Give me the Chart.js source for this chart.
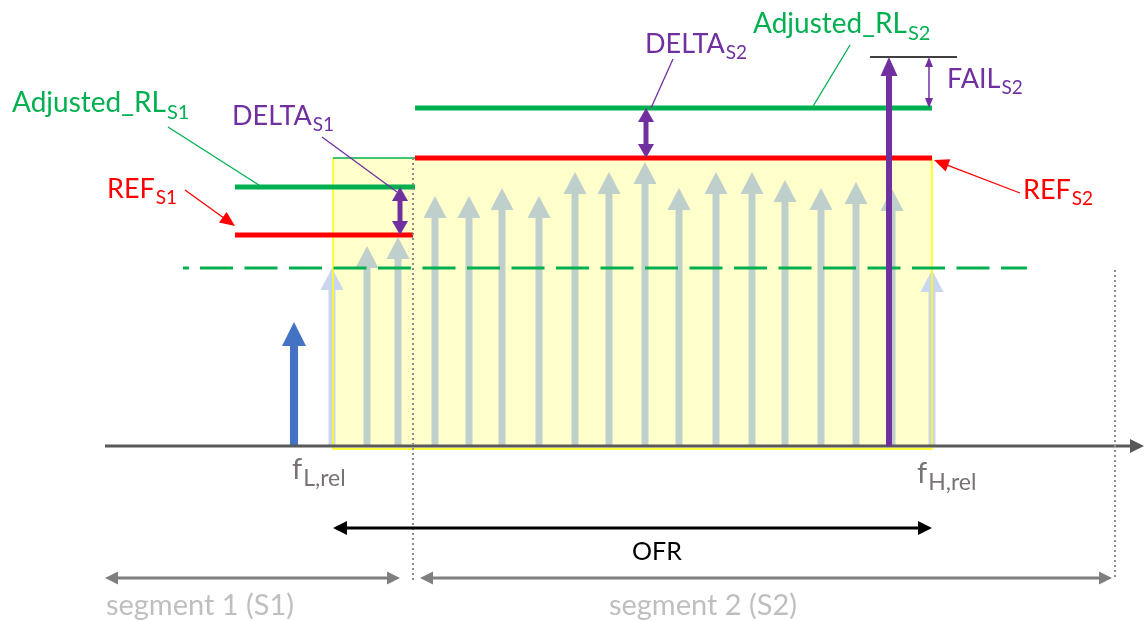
<!DOCTYPE html>
<html>
<head>
<meta charset="utf-8">
<script src="https://cdn.jsdelivr.net/npm/chart.js@4.4.0/dist/chart.umd.min.js"></script>
<style>
  html, body { margin: 0; padding: 0; background: #fff; }
  #wrap { width: 1144px; height: 621px; }
</style>
</head>
<body>
<div id="wrap"><canvas id="diagram"></canvas></div>
<script>
// Schematic: x = frequency (arbitrary units), y = level above the axis

// emission lines inside the OFR
const emissionFreqs = [332, 367, 398, 435, 469, 502, 539, 575, 609, 645, 679, 716, 752, 785, 821, 856, 892, 932];
const emissionLevels = [178, 200, 209, 250, 250, 258, 250, 274, 274, 284, 258, 274, 274, 266, 258, 264, 257, 176];

// out of range emission and failing emission
const outsideFreq = 294, outsideLevel = 124;
const failFreq = 889, failLevel = 389;

// segments
const segmentNames = ['segment 1 (S1)', 'segment 2 (S2)'];
const segmentBounds = [105, 413, 1115];
const ofrRange = [333, 932];

// reference / adjusted limits per segment
const refStart = [235, 415];
const refEnd = [413, 932];
const refLevels = [211, 288];
const adjStart = [235, 415];
const adjEnd = [415, 932];
const adjLevels = [259, 338];
const thresholdLevel = 178;
const thresholdRange = [200, 1027];

const GREEN = '#00b050', RED = '#ff0000', PURPLE = '#7030a0';
const FONT = 'Lato, "Open Sans", sans-serif';

function seg(x1, x2, y) { return [{ x: x1, y: y }, { x: x2, y: y }]; }

const lineDefaults = { pointRadius: 0, borderCapStyle: 'butt', fill: false, tension: 0 };

const datasets = [
  { ...lineDefaults, data: seg(refStart[0], refEnd[0], refLevels[0]), borderColor: RED, borderWidth: 5 },
  { ...lineDefaults, data: seg(refStart[1], refEnd[1], refLevels[1]), borderColor: RED, borderWidth: 5 },
  { ...lineDefaults, data: seg(adjStart[0], adjEnd[0], adjLevels[0]), borderColor: GREEN, borderWidth: 5 },
  { ...lineDefaults, data: seg(adjStart[1], adjEnd[1], adjLevels[1]), borderColor: GREEN, borderWidth: 5 },
  { ...lineDefaults, data: seg(ofrRange[0], refStart[1], refLevels[1]), borderColor: GREEN, borderWidth: 1.5 },
  { ...lineDefaults, data: seg(870, 957, failLevel), borderColor: '#404040', borderWidth: 2 },
  { ...lineDefaults, data: seg(thresholdRange[0], thresholdRange[1], thresholdLevel), borderColor: GREEN, borderWidth: 3, borderDash: [33, 11.5] },
  { ...lineDefaults, data: seg(183, 189, thresholdLevel), borderColor: GREEN, borderWidth: 3 },
  { ...lineDefaults, data: seg(segmentBounds[0], 1134, 0), borderColor: '#595959', borderWidth: 3 }
];

// labels: [main, subscript, x, level, colour, size]
const labels = [
  ['Adjusted_RL', 'S1', 12, 334, GREEN, 28],
  ['DELTA', 'S1', 232, 321, PURPLE, 27],
  ['REF', 'S1', 107, 248, RED, 27],
  ['DELTA', 'S2', 645, 393, PURPLE, 27],
  ['Adjusted_RL', 'S2', 753, 413, GREEN, 28],
  ['FAIL', 'S2', 947, 358, PURPLE, 27],
  ['REF', 'S2', 1023, 247, RED, 27]
];

// leader lines: [x1, y1, x2, y2, colour, arrowhead]
const leaders = [
  [168, 319, 262, 259, GREEN, false],
  [322, 309, 397, 254, PURPLE, false],
  [185, 256, 235, 220, RED, true],
  [673, 387, 651, 338, PURPLE, false],
  [850, 401, 812, 338, GREEN, false],
  [1020, 253, 934, 286, RED, true]
];

function head(ctx, x, y, ang, len, w, color) {
  ctx.save();
  ctx.translate(x, y);
  ctx.rotate(ang);
  ctx.beginPath();
  ctx.moveTo(0, 0);
  ctx.lineTo(-len, -w / 2);
  ctx.lineTo(-len, w / 2);
  ctx.closePath();
  ctx.fillStyle = color;
  ctx.fill();
  ctx.restore();
}

// arrow from (x1,y1) to (x2,y2) in pixels
function arrow(ctx, x1, y1, x2, y2, o) {
  const ang = Math.atan2(y2 - y1, x2 - x1);
  const dx = Math.cos(ang), dy = Math.sin(ang);
  const sx = o.both ? x1 + dx * o.len * 0.8 : x1, sy = o.both ? y1 + dy * o.len * 0.8 : y1;
  const ex = x2 - dx * o.len * 0.8, ey = y2 - dy * o.len * 0.8;
  ctx.save();
  ctx.strokeStyle = o.color;
  ctx.lineWidth = o.width;
  ctx.lineCap = 'butt';
  ctx.beginPath();
  ctx.moveTo(sx, sy);
  ctx.lineTo(o.noHead ? x2 : ex, o.noHead ? y2 : ey);
  ctx.stroke();
  ctx.restore();
  if (!o.noHead) head(ctx, x2, y2, ang, o.len, o.w, o.color);
  if (o.both) head(ctx, x1, y1, ang + Math.PI, o.len, o.w, o.color);
}

function subText(ctx, main, sub, x, y, size, color, subSize, drop) {
  ctx.save();
  ctx.fillStyle = color;
  ctx.textBaseline = 'alphabetic';
  ctx.textAlign = 'left';
  ctx.font = size + 'px ' + FONT;
  ctx.fillText(main, x, y);
  const w = ctx.measureText(main).width;
  ctx.font = (subSize || Math.round(size * 0.7)) + 'px ' + FONT;
  ctx.fillText(sub, x + w + 1, y + (drop !== undefined ? drop : size * 0.24));
  ctx.restore();
}

function vDotted(ctx, x, y1, y2) {
  ctx.save();
  ctx.strokeStyle = '#8c8c8c';
  ctx.lineWidth = 2;
  ctx.setLineDash([2, 3]);
  ctx.beginPath();
  ctx.moveTo(x, y1);
  ctx.lineTo(x, y2);
  ctx.stroke();
  ctx.restore();
}

const diagramPlugin = {
  id: 'diagram',
  beforeDatasetsDraw(chart) {
    const ctx = chart.ctx, X = v => chart.scales.x.getPixelForValue(v), Y = v => chart.scales.y.getPixelForValue(v);
    // OFR box
    ctx.save();
    ctx.fillStyle = '#ffffcc';
    ctx.fillRect(X(ofrRange[0]), Y(refLevels[1]), X(ofrRange[1]) - X(ofrRange[0]), Y(-3) - Y(refLevels[1]));
    ctx.restore();
    // emissions
    emissionFreqs.forEach((f, i) => {
      const edge = i === 0 || i === emissionFreqs.length - 1;
      arrow(ctx, X(f), Y(0), X(f), Y(emissionLevels[i]), { color: edge ? '#c9d6ee' : '#bfcfcb', width: 7, len: 22, w: 23 });
    });
    // box edges
    ctx.save();
    ctx.strokeStyle = '#ffff00';
    ctx.lineWidth = 1.5;
    ctx.beginPath();
    ctx.moveTo(X(ofrRange[0]), Y(refLevels[1]));
    ctx.lineTo(X(ofrRange[0]), Y(-3));
    ctx.lineTo(X(ofrRange[1]), Y(-3));
    ctx.lineTo(X(ofrRange[1]), Y(refLevels[1]));
    ctx.stroke();
    ctx.restore();
    // emission outside the OFR
    arrow(ctx, X(outsideFreq), Y(0), X(outsideFreq), Y(outsideLevel), { color: '#4472c4', width: 8, len: 24, w: 24 });
  },
  afterDatasetsDraw(chart) {
    const ctx = chart.ctx, X = v => chart.scales.x.getPixelForValue(v), Y = v => chart.scales.y.getPixelForValue(v);
    // axis arrowhead
    head(ctx, X(1144), Y(0), 0, 14, 14, '#595959');
    // segment boundaries
    vDotted(ctx, X(segmentBounds[1]), Y(refLevels[1]), Y(-136));
    vDotted(ctx, X(segmentBounds[2]), Y(thresholdLevel - 2), Y(-134));
    // failing emission
    arrow(ctx, X(failFreq), Y(0), X(failFreq), Y(failLevel), { color: PURPLE, width: 6, len: 19, w: 17 });
    // deltas and fail margin
    arrow(ctx, X(400), Y(refLevels[0]), X(400), Y(adjLevels[0]), { color: PURPLE, width: 5, len: 14, w: 16, both: true });
    arrow(ctx, X(646), Y(refLevels[1]), X(646), Y(adjLevels[1]), { color: PURPLE, width: 5, len: 14, w: 16, both: true });
    arrow(ctx, X(929), Y(adjLevels[1]), X(929), Y(failLevel), { color: PURPLE, width: 1.5, len: 10, w: 8, both: true });
    // leaders
    leaders.forEach(l => {
      arrow(ctx, X(l[0]), Y(l[1]), X(l[2]), Y(l[3]), { color: l[4], width: 1.3, len: 15, w: 13, noHead: !l[5] });
    });
    // labels
    labels.forEach(l => subText(ctx, l[0], l[1], X(l[2]), Y(l[3]), l[5], l[4]));
    subText(ctx, 'f', 'L,rel', X(292), Y(-33), 29, '#7a7373', 23, 7);
    subText(ctx, 'f', 'H,rel', X(917), Y(-37), 29, '#7a7373', 23, 7);
    // OFR and segments
    arrow(ctx, X(ofrRange[0]), Y(-82), X(ofrRange[1]), Y(-82), { color: '#000', width: 3, len: 14, w: 14, both: true });
    arrow(ctx, X(segmentBounds[0]), Y(-132), X(400), Y(-132), { color: '#7f7f7f', width: 3, len: 13, w: 13, both: true });
    arrow(ctx, X(420), Y(-132), X(1112), Y(-132), { color: '#7f7f7f', width: 3, len: 13, w: 13, both: true });
    ctx.save();
    ctx.textAlign = 'center';
    ctx.textBaseline = 'alphabetic';
    ctx.font = '25px ' + FONT;
    ctx.fillStyle = '#000';
    ctx.fillText('OFR', X(657), Y(-114));
    ctx.font = '29px ' + FONT;
    ctx.fillStyle = '#bfbfbf';
    ctx.fillText(segmentNames[0], X(200), Y(-169));
    ctx.fillText(segmentNames[1], X(703), Y(-169));
    ctx.restore();
  }
};

new Chart(document.getElementById('diagram'), {
  type: 'line',
  data: { datasets: datasets },
  options: {
    responsive: true,
    maintainAspectRatio: false,
    animation: false,
    events: [],
    layout: { padding: 0 },
    plugins: { legend: { display: false }, tooltip: { enabled: false } },
    scales: {
      x: { type: 'linear', min: 0, max: 1144, display: false },
      y: { type: 'linear', min: -175, max: 446, display: false }
    }
  },
  plugins: [diagramPlugin]
});
</script>
</body>
</html>
